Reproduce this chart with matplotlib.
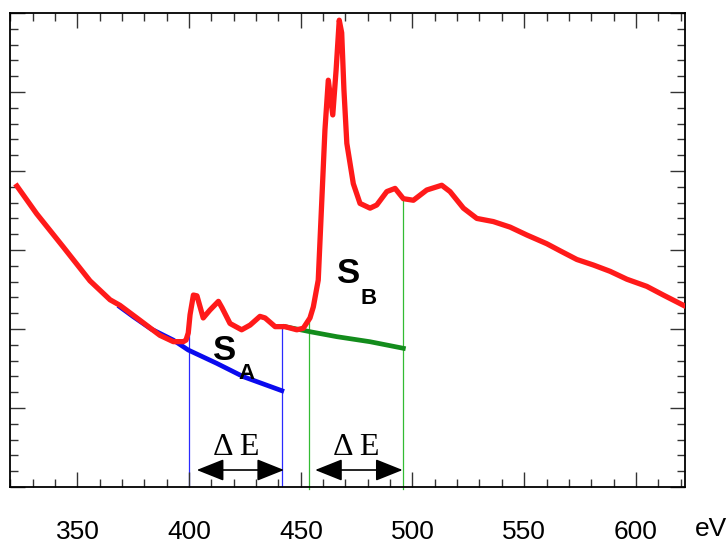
import numpy as np
import matplotlib

matplotlib.use("Agg")
import matplotlib.pyplot as plt
from matplotlib.ticker import MultipleLocator

# spectrum (energy in eV, intensity in arbitrary units)
energy = [
    322.9, 331.7, 343.6, 355.6, 364.6, 369.0, 378.0, 386.9, 392.9, 397.4,
    398.6, 399.6, 400.4, 401.9, 403.5, 406.3, 409.3, 413.1, 414.7, 418.3,
    423.5, 427.3, 431.7, 434.0, 438.5, 442.9, 448.2, 451.1, 454.1, 455.6,
    457.8, 459.4, 460.8, 462.3, 464.3, 465.8, 467.2, 468.3, 469.3, 470.6,
    473.5, 476.5, 481.0, 484.0, 488.5, 492.2, 495.9, 500.4, 506.4, 513.1,
    516.8, 522.8, 528.8, 536.2, 543.7, 551.2, 560.1, 566.1, 573.6, 581.0,
    588.5, 596.0, 604.9, 612.3, 621.3,
]
intensity = [
    3.81, 3.46, 3.04, 2.61, 2.37, 2.30, 2.11, 1.92, 1.84, 1.84,
    1.86, 1.95, 2.18, 2.43, 2.42, 2.14, 2.24, 2.35, 2.27, 2.07,
    1.99, 2.05, 2.16, 2.14, 2.03, 2.03, 1.99, 2.01, 2.14, 2.28,
    2.62, 3.63, 4.52, 5.15, 4.71, 5.28, 5.91, 5.75, 5.03, 4.35,
    3.84, 3.59, 3.53, 3.57, 3.74, 3.78, 3.65, 3.63, 3.76, 3.82,
    3.74, 3.53, 3.40, 3.36, 3.29, 3.19, 3.08, 2.99, 2.88, 2.81,
    2.73, 2.63, 2.54, 2.43, 2.30,
]

# background fits under edge A and edge B
bg_a_energy = [369.0, 375.0, 383.0, 392.9, 399.6, 412.3, 424.3, 441.5]
bg_a_intensity = [2.28, 2.156, 2.00, 1.86, 1.734, 1.566, 1.396, 1.219]
bg_b_energy = [442.9, 454.1, 466.1, 481.0, 495.9]
bg_b_intensity = [2.03, 1.966, 1.903, 1.839, 1.756]

# integration windows
window_a = [400.0, 441.4]
window_b = [453.8, 495.6]
arrow_a = [403.4, 442.5]
arrow_b = [456.4, 495.6]

xticks = [350, 400, 450, 500, 550, 600]

fig = plt.figure(figsize=(7.27, 5.44), dpi=100)
ax = fig.add_axes([0.0144, 0.1048, 0.9278, 0.8712])

ax.plot(bg_a_energy, bg_a_intensity, color="#0a0aee", lw=3.4, zorder=2)
ax.plot(bg_b_energy, bg_b_intensity, color="#138c1c", lw=3.4, zorder=2)
ax.plot(energy, intensity, color="#ff1a1a", lw=3.8, zorder=3,
        solid_joinstyle="round")

for xe in window_a:
    top = np.interp(xe, energy, intensity)
    ax.plot([xe, xe], [0, top], color="#2a2aff", lw=0.9, zorder=1)
for xe in window_b:
    top = np.interp(xe, energy, intensity)
    ax.plot([xe, xe], [-0.03, top], color="#33bb33", lw=0.9, zorder=1,
            clip_on=False)

for lo, hi in (arrow_a, arrow_b):
    ax.annotate("", xy=(hi, 0.215), xytext=(lo, 0.215),
                arrowprops=dict(arrowstyle="<|-|>,head_length=1.0,head_width=0.4",
                                mutation_scale=17, color="black", lw=1.2,
                                shrinkA=0, shrinkB=0))

for xc in (421.3, 475.0):
    ax.text(xc, 0.40, "Δ E", family="Liberation Serif", fontsize=23,
            ha="center", va="baseline")

sans = "Liberation Sans"
ax.text(416.0, 1.73, "S", family=sans, fontsize=25, fontweight="bold",
        ha="center", va="center")
ax.text(425.5, 1.44, "A", family=sans, fontsize=16, fontweight="bold",
        ha="center", va="center")
ax.text(471.3, 2.705, "S", family=sans, fontsize=25, fontweight="bold",
        ha="center", va="center")
ax.text(480.2, 2.39, "B", family=sans, fontsize=16, fontweight="bold",
        ha="center", va="center")

ax.set_xlim(320, 622)
ax.set_ylim(0, 6)
ax.set_xticks(xticks)
ax.xaxis.set_minor_locator(MultipleLocator(10))
ax.yaxis.set_major_locator(MultipleLocator(1))
ax.yaxis.set_minor_locator(MultipleLocator(0.2))
ax.tick_params(which="both", direction="in", top=True, right=True,
               labelleft=False, color="#333333", width=1.0)
ax.tick_params(which="major", length=11)
ax.tick_params(which="minor", length=6)
ax.tick_params(axis="x", which="major", pad=24, labelsize=19)
for lab in ax.get_xticklabels():
    lab.set_family(sans)
for sp in ax.spines.values():
    sp.set_linewidth(1.3)

fig.text(711 / 727, 1 - 529 / 544, "eV", family=sans, fontsize=19,
         ha="center", va="center")

fig.savefig("out.png", dpi=100)
